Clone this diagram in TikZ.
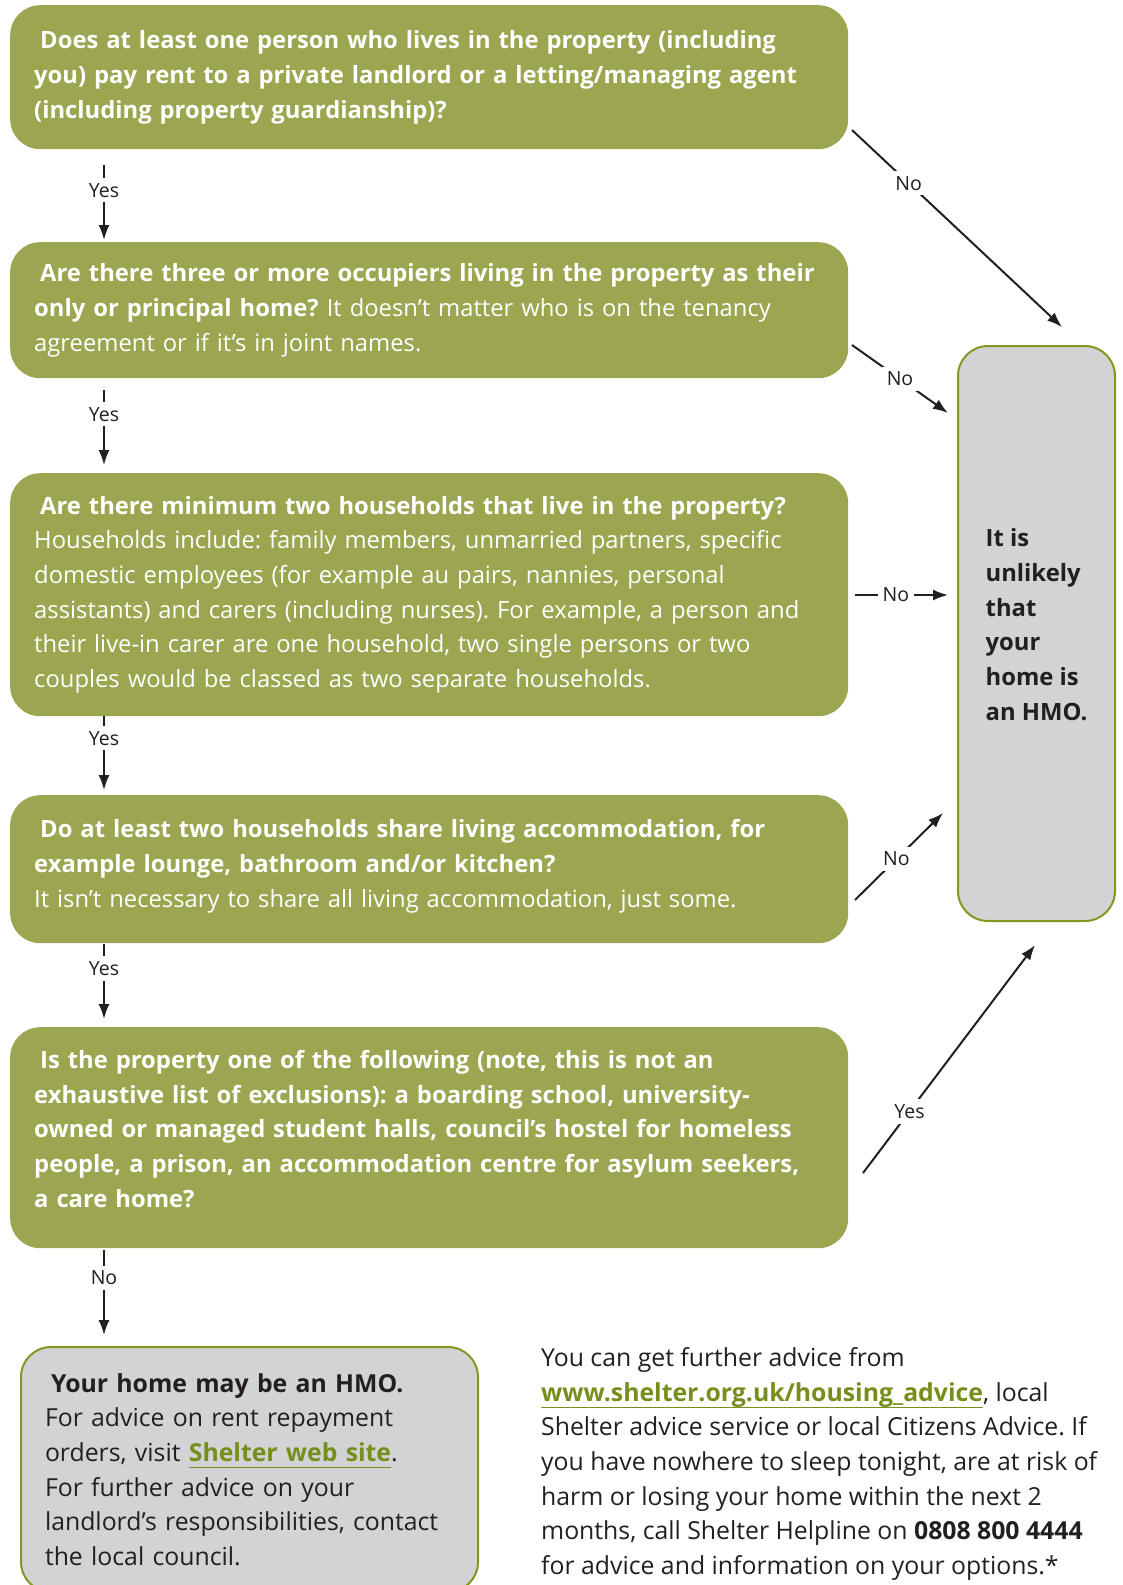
\documentclass[tikz,border=0pt]{standalone}
\usepackage{fontspec}
\setmainfont{Open Sans}
\usepackage{tikz}
\usetikzlibrary{arrows.meta}
\usetikzlibrary{calc}
\frenchspacing
\definecolor{hmogreen}{RGB}{156,165,80}
\definecolor{hmogrey}{RGB}{209,211,212}
\definecolor{hmoedge}{RGB}{134,150,32}
\definecolor{hmolink}{RGB}{118,142,28}
\definecolor{hmoink}{RGB}{35,31,32}
\newcommand{\HMOText}{\fontsize{23.8}{34.7}\selectfont}
\newcommand{\HMONote}{\fontsize{24.8}{34.7}\selectfont}
\newcommand{\HMOLift}[1]{\rule[-#1]{0pt}{1pt}}
\newcommand{\HMOLink}[1]{\textcolor{hmolink}{\bfseries\setbox0=\hbox{#1}\rlap{\rule[-7pt]{\wd0}{1pt}}\box0}}
\newcommand{\HMODown}[6]{
  \draw [flow, shorten <=#3, shorten >=#4] (#1.south -| col) -- node[lbl, pos=#5] {#6} (#2.north -| col);
}
\newcommand{\HMOSide}[6]{
  \coordinate (#1) at #3;
  \coordinate (#2) at #4;
  \draw [flow] (#1) -- node[lbl, pos=#5] {#6} (#2);
}

\begin{document}
\begin{tikzpicture}[x=1pt,y=-1pt,
  >={Latex[length=15pt,width=11pt]},
  question/.style={fill=hmogreen, rounded corners=30pt, anchor=north west, minimum width=838pt,
    text width=790pt, inner xsep=24pt, align=left, text=white, font=\HMOText},
  outcome/.style={draw=hmoedge, line width=2pt, fill=hmogrey, rounded corners=30pt,
    anchor=north west, align=left, text=hmoink, font=\HMOText},
  flow/.style={->, line width=2pt, draw=hmoink},
  lbl/.style={fill=white, text=hmoink, inner sep=5pt, font=\fontsize{19.5}{21}\selectfont}]
\useasboundingbox (0,0) rectangle (1123,1585);
\clip (0,0) rectangle (1123,1585);
\coordinate (col) at (104,0);

\node[question, minimum height=144pt] (q1) at (10,5) {\bfseries
\hspace*{6pt}Does at least one person who lives in the property (including\\
you) pay rent to a private landlord or a letting/managing agent\\
(including property guardianship)?};

\node[question, minimum height=136pt] (q2) at (10,242) {%
\textbf{\hspace*{6pt}Are there three or more occupiers living in the property as their}\\
\textbf{only or principal home?} It doesn’t matter who is on the tenancy\\
agreement or if it’s in joint names.};

\node[question, minimum height=243pt] (q3) at (10,473) {%
\textbf{\hspace*{6pt}Are there minimum two households that live in the property?}\\
Households include: family members, unmarried partners, specific\\
domestic employees (for example au pairs, nannies, personal\\
assistants) and carers (including nurses). For example, a person and\\
their live-in carer are one household, two single persons or two\\
couples would be classed as two separate households.};

\node[question, minimum height=148pt] (q4) at (10,795) {%
\textbf{\hspace*{6pt}Do at least two households share living accommodation, for}\\
\textbf{example lounge, bathroom and/or kitchen?}\\
It isn’t necessary to share all living accommodation, just some.\HMOLift{12pt}};

\node[question, minimum height=221pt] (q5) at (10,1027) {\bfseries
\hspace*{6pt}Is the property one of the following (note, this is not an\\
exhaustive list of exclusions): a boarding school, university-\\
owned or managed student halls, council’s hostel for homeless\\
people, a prison, an accommodation centre for asylum seekers,\\
a care home?\HMOLift{18pt}};

\node[outcome, minimum width=157pt, minimum height=575pt, font=\HMOText\bfseries] (hmo) at (957,345)
  {It is\\unlikely\\that\\your\\home is\\an HMO.\HMOLift{18pt}};

\node[outcome, minimum width=457pt, minimum height=245pt, text width=409pt, inner xsep=24pt, font=\HMONote] (may) at (20,1346) {%
\textbf{\hspace*{6pt}Your home may be an HMO.}\\
For advice on rent repayment\\
orders, visit \HMOLink{Shelter web site}.\\
For further advice on your\\
landlord’s responsibilities, contact\\
the local council.};

\node[anchor=west, align=left, inner sep=0pt, text=hmoink, font=\HMONote] (advice) at (541,1464) {%
You can get further advice from\\
\HMOLink{www.shelter.org.uk/housing\_advice}, local\\
Shelter advice service or local Citizens Advice. If\\
you have nowhere to sleep tonight, are at risk of\\
harm or losing your home within the next 2\\
months, call Shelter Helpline on \textbf{0808 800 4444}\\
for advice and information on your options.*};

\HMODown{q1}{q2}{16pt}{2pt}{0.44}{Yes}
\HMODown{q2}{q3}{12pt}{8pt}{0.38}{Yes}
\HMODown{q3}{q4}{0pt}{5pt}{0.28}{Yes}
\HMODown{q4}{q5}{1pt}{8pt}{0.30}{Yes}
\HMODown{q5}{may}{2pt}{11pt}{0.30}{No}

\HMOSide{a1}{b1}{(852,130)}{(1062,327)}{0.27}{No}
\HMOSide{a2}{b2}{(852,345)}{(948,413)}{0.5}{No}
\HMOSide{a3}{b3}{(855,595)}{(948,595)}{0.44}{No}
\HMOSide{a4}{b4}{(855,900)}{(943,813)}{0.47}{No}
\HMOSide{a5}{b5}{(863,1173)}{(1035,945)}{0.27}{Yes}
\end{tikzpicture}
\end{document}
